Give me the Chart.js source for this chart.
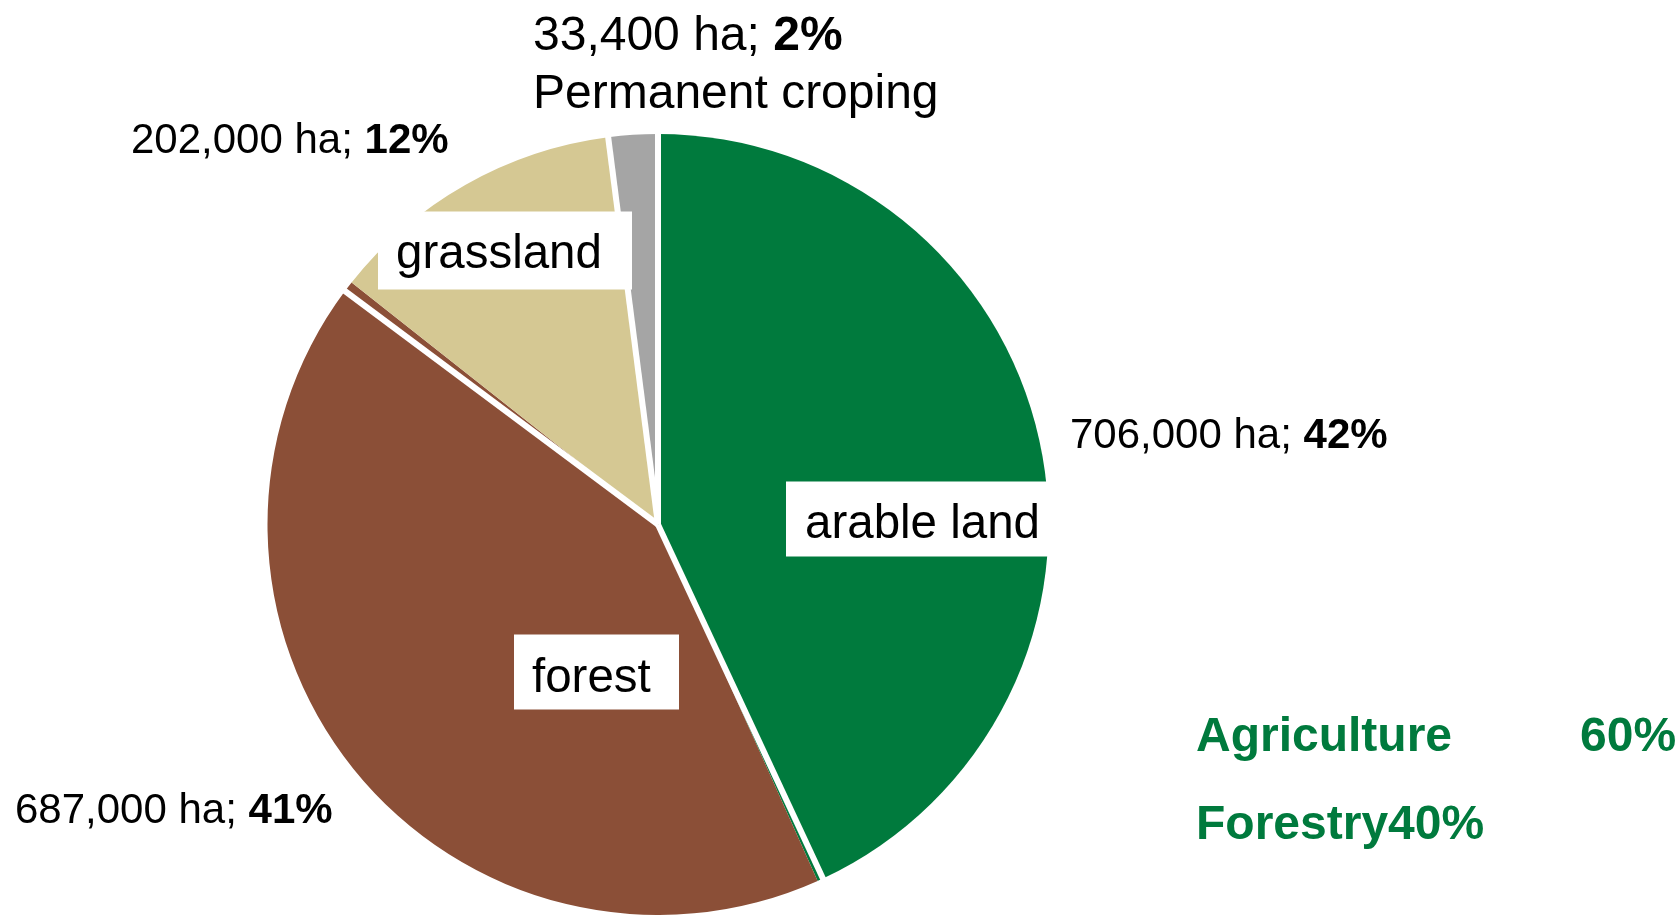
<!DOCTYPE html>
<html>
<head>
<meta charset="utf-8">
<script src="https://cdn.jsdelivr.net/npm/chart.js@4.4.1/dist/chart.umd.min.js"></script>
<style>
  body { margin: 0; background: #ffffff; }
  #land-chart { display: block; }
</style>
</head>
<body>
<canvas id="land-chart" width="1679" height="915"></canvas>
<script>
  // land use slices, clockwise from 12 o'clock
  const categories = ['arable land', '', 'forest', '', 'grassland', 'Permanent croping'];
  const areaHa = [706000, 3900, 687000, 7300, 202000, 33400];
  const shareText = ['42%', '', '41%', '', '12%', '2%'];
  const groupNames = ['Agriculture', 'Forestry'];
  const groupShares = ['60%', '40%'];

  const sliceColors = ['#007a3d', '#007a3d', '#8b4f37', '#8b4f37', '#d5c893', '#a5a5a5'];
  // white cut drawn at the end of these slices
  const cutAfter = [0, 2, 4, 5];

  const FONT = '"Liberation Sans", Arial, sans-serif';

  // label placement, relative to pie centre
  const outerLabels = {
    0: { dx: 412, dy: -77, size: 42 },
    2: { dx: -643, dy: 298, size: 42 },
    4: { dx: -527, dy: -372, size: 42 },
    5: { dx: -125, dy: -475, size: 48, second: -417 }
  };
  const innerLabels = {
    0: { bx: 128, by: -43, bw: 265, bh: 75, tx: 147, ty: 13 },
    2: { bx: -144, by: 110, bw: 165, bh: 75, tx: -126, ty: 167 },
    4: { bx: -280, by: -313, bw: 254, bh: 78, tx: -262, ty: -257 }
  };

  function fmtHa(v) {
    return v.toLocaleString('en-US') + ' ha; ';
  }

  function drawMixed(ctx, x, y, normal, bold, size) {
    ctx.font = size + 'px ' + FONT;
    ctx.fillText(normal, x, y);
    var w = ctx.measureText(normal).width;
    ctx.font = 'bold ' + size + 'px ' + FONT;
    ctx.fillText(bold, x + w, y);
  }

  const labelPlugin = {
    id: 'landLabels',
    afterDatasetsDraw(chart) {
      const ctx = chart.ctx;
      const arcs = chart.getDatasetMeta(0).data;
      const cx = arcs[0].x, cy = arcs[0].y, r = arcs[0].outerRadius;

      // white cuts between the big slices
      ctx.save();
      ctx.strokeStyle = '#ffffff';
      ctx.lineWidth = 6;
      cutAfter.forEach(function (i) {
        var a = arcs[i].endAngle;
        ctx.beginPath();
        ctx.moveTo(cx, cy);
        ctx.lineTo(cx + Math.cos(a) * (r + 3), cy + Math.sin(a) * (r + 3));
        ctx.stroke();
      });

      ctx.textBaseline = 'alphabetic';
      ctx.fillStyle = '#000000';

      // value labels outside the pie
      Object.keys(outerLabels).forEach(function (k) {
        var p = outerLabels[k];
        drawMixed(ctx, cx + p.dx, cy + p.dy, fmtHa(areaHa[k]), shareText[k], p.size);
        if (p.second) {
          ctx.font = p.size + 'px ' + FONT;
          ctx.fillText(categories[k], cx + p.dx, cy + p.second);
        }
      });

      // category names in white boxes
      Object.keys(innerLabels).forEach(function (k) {
        var p = innerLabels[k];
        ctx.fillStyle = '#ffffff';
        ctx.fillRect(cx + p.bx, cy + p.by, p.bw, p.bh);
        ctx.fillStyle = '#000000';
        ctx.font = '47.5px ' + FONT;
        ctx.fillText(categories[k], cx + p.tx, cy + p.ty);
      });

      // group totals
      ctx.fillStyle = '#007a3d';
      ctx.font = 'bold 48px ' + FONT;
      ctx.fillText(groupNames[0], cx + 538, cy + 226);
      ctx.fillText(groupShares[0], cx + 922, cy + 226);
      ctx.fillText(groupNames[1] + groupShares[1], cx + 538, cy + 314);
      ctx.restore();
    }
  };

  function renderLandChart() {
    const ctx = document.getElementById('land-chart').getContext('2d');
    new Chart(ctx, {
      type: 'pie',
      data: {
        labels: categories,
        datasets: [{
          data: areaHa,
          backgroundColor: sliceColors,
          borderWidth: 0
        }]
      },
      options: {
        responsive: false,
        animation: false,
        layout: {
          padding: { top: 134, bottom: 0, left: 267, right: 630 }
        },
        plugins: {
          legend: { display: false },
          tooltip: { enabled: false }
        }
      },
      plugins: [labelPlugin]
    });
  }

  window.onload = () => {
    renderLandChart();
  };
</script>
</body>
</html>
